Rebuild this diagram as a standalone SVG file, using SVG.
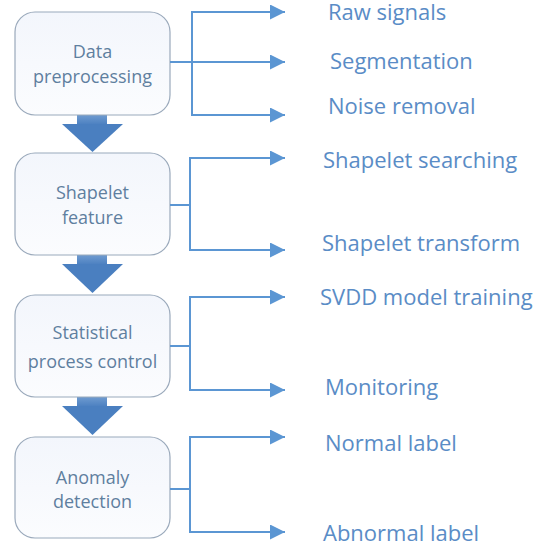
<svg xmlns="http://www.w3.org/2000/svg" width="538" height="548" viewBox="0 0 538 548">
  <defs>
    <linearGradient id="boxFill" x1="0" y1="0" x2="0" y2="1">
      <stop offset="0" stop-color="#f3f6fc"/>
      <stop offset="1" stop-color="#fbfcfe"/>
    </linearGradient>
    <linearGradient id="shaftFill" x1="0" y1="0" x2="0" y2="1">
      <stop offset="0" stop-color="#6f9bd0"/>
      <stop offset="1" stop-color="#4a7fc0"/>
    </linearGradient>
    <marker id="head" viewBox="0 0 10 10" refX="10" refY="5" markerWidth="7.5" markerHeight="7.5" markerUnits="strokeWidth" orient="auto">
      <path d="M0,0 L10,5 L0,10 Z" fill="#5b96d3"/>
    </marker>
  </defs>
  <style>
    .box { fill: url(#boxFill); stroke: #9aa9bb; stroke-width: 1.2; }
    .btxt { font-family: "Open Sans", "Noto Sans", sans-serif; font-size: 18px; fill: #5f7f9f; text-anchor: middle; }
    .ltxt { font-family: "Open Sans", "Noto Sans", sans-serif; font-size: 22px; fill: #5a8cc6; }
    .wire { fill: none; stroke: #5b96d3; stroke-width: 2; }
    .arr { stroke: #5b96d3; stroke-width: 2; fill: none; marker-end: url(#head); }
    .big { fill: #4a7fc0; }
  </style>

  <rect width="538" height="548" fill="#ffffff"/>

  <!-- flow arrows between stages -->
  <g id="flow">
    <g class="down">
      <rect x="77" y="115" width="30" height="10" fill="url(#shaftFill)"/>
      <polygon class="big" points="62,124 123,124 92.5,152"/>
    </g>
    <g class="down">
      <rect x="77" y="255" width="30" height="10" fill="url(#shaftFill)"/>
      <polygon class="big" points="62,264 123,264 92.5,293"/>
    </g>
    <g class="down">
      <rect x="77" y="397" width="30" height="10" fill="url(#shaftFill)"/>
      <polygon class="big" points="62,406 123,406 92.5,435"/>
    </g>
  </g>

  <!-- stage boxes -->
  <g id="stage-preprocessing">
    <rect class="box" x="15" y="12" width="155" height="103" rx="20"/>
    <text class="btxt" x="92.5" y="58">Data</text>
    <text class="btxt" x="92.5" y="83">preprocessing</text>
  </g>
  <g id="stage-shapelet">
    <rect class="box" x="15" y="153" width="155" height="102" rx="20"/>
    <text class="btxt" x="92.5" y="199">Shapelet</text>
    <text class="btxt" x="92.5" y="224">feature</text>
  </g>
  <g id="stage-spc">
    <rect class="box" x="15" y="295" width="155" height="102" rx="20"/>
    <text class="btxt" x="92.5" y="339">Statistical</text>
    <text class="btxt" x="92.5" y="368">process control</text>
  </g>
  <g id="stage-anomaly">
    <rect class="box" x="15" y="437" width="155" height="101" rx="20"/>
    <text class="btxt" x="92.5" y="484">Anomaly</text>
    <text class="btxt" x="92.5" y="508">detection</text>
  </g>

  <!-- branch connectors -->
  <g id="connectors">
    <path class="wire" d="M170,62 H192 M192,12 V115"/>
    <path class="arr" d="M191,12 H285"/>
    <path class="arr" d="M192,62 H285"/>
    <path class="arr" d="M191,115 H285"/>

    <path class="wire" d="M170,205 H190 M190,158 V250"/>
    <path class="arr" d="M189,158 H285"/>
    <path class="arr" d="M189,250 H285"/>

    <path class="wire" d="M170,346 H190 M190,297 V390"/>
    <path class="arr" d="M189,297 H285"/>
    <path class="arr" d="M189,390 H285"/>

    <path class="wire" d="M170,489 H190 M190,437 V532"/>
    <path class="arr" d="M189,437 H285"/>
    <path class="arr" d="M189,532 H285"/>
  </g>

  <!-- step labels -->
  <g id="labels">
    <text class="ltxt" x="328" y="20">Raw signals</text>
    <text class="ltxt" x="330" y="69">Segmentation</text>
    <text class="ltxt" x="328" y="114">Noise removal</text>
    <text class="ltxt" x="323" y="168">Shapelet searching</text>
    <text class="ltxt" x="322" y="251">Shapelet transform</text>
    <text class="ltxt" x="320" y="305">SVDD model training</text>
    <text class="ltxt" x="325" y="395">Monitoring</text>
    <text class="ltxt" x="325" y="451">Normal label</text>
    <text class="ltxt" x="323" y="541">Abnormal label</text>
  </g>
</svg>
